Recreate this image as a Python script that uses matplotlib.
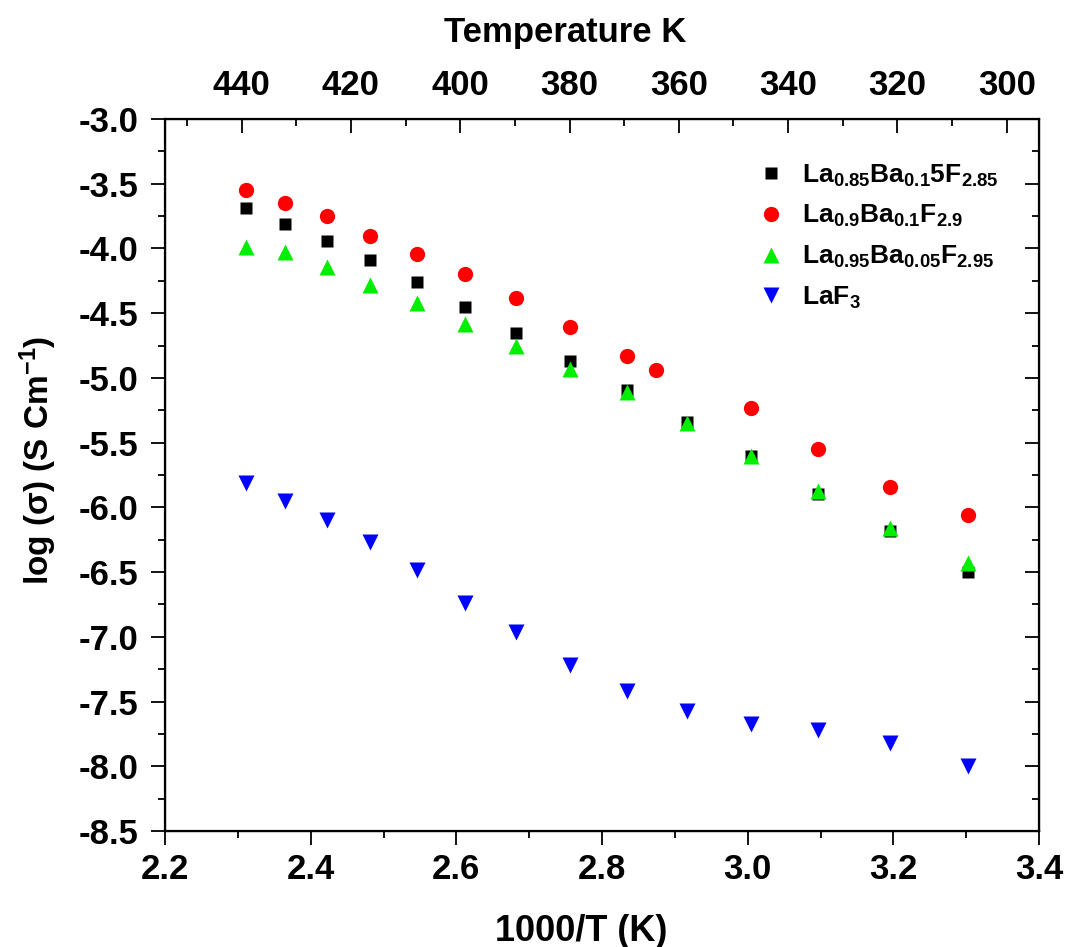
import matplotlib
matplotlib.use("Agg")
import matplotlib.pyplot as plt
from matplotlib.ticker import MultipleLocator, NullFormatter

plt.rcParams["font.family"] = ["Liberation Sans", "DejaVu Sans"]
plt.rcParams["font.weight"] = "bold"
plt.rcParams["axes.unicode_minus"] = False
plt.rcParams["mathtext.fontset"] = "custom"
plt.rcParams["mathtext.rm"] = "Liberation Sans:bold"
plt.rcParams["mathtext.default"] = "rm"

# 1000/T valores (eixo inferior)
inv_t = [2.311, 2.365, 2.422, 2.482, 2.546, 2.612, 2.682, 2.756,
         2.834, 2.916, 3.004, 3.097, 3.196, 3.302]
inv_t_red = [2.311, 2.365, 2.422, 2.482, 2.546, 2.612, 2.682, 2.756,
             2.834, 2.874, 3.004, 3.097, 3.196, 3.302]

log_s_085 = [-3.69, -3.81, -3.94, -4.09, -4.26, -4.45, -4.65, -4.87,
             -5.09, -5.34, -5.60, -5.90, -6.18, -6.50]
log_s_09 = [-3.55, -3.65, -3.75, -3.90, -4.04, -4.20, -4.38, -4.61,
            -4.83, -4.94, -5.23, -5.55, -5.84, -6.06]
log_s_095 = [-3.99, -4.03, -4.14, -4.28, -4.42, -4.58, -4.75, -4.93,
             -5.11, -5.35, -5.60, -5.87, -6.16, -6.43]
log_s_laf3 = [-5.81, -5.95, -6.10, -6.27, -6.48, -6.74, -6.96, -7.22,
              -7.42, -7.57, -7.67, -7.72, -7.82, -8.00]

labels = [r"La$_{0.85}$Ba$_{0.1}$5F$_{2.85}$",
          r"La$_{0.9}$Ba$_{0.1}$F$_{2.9}$",
          r"La$_{0.95}$Ba$_{0.05}$F$_{2.95}$",
          r"LaF$_{3}$"]

fig = plt.figure(figsize=(10.82, 9.47), dpi=100)
ax = fig.add_axes([0.1525, 0.1225, 0.8078, 0.7518])

ax.plot(inv_t, log_s_085, "s", color="black", ms=9, mec="none", label=labels[0])
ax.plot(inv_t_red, log_s_09, "o", color="#ff0000", ms=11, mec="none", label=labels[1])
ax.plot(inv_t, log_s_095, "^", color="#00ee00", ms=12, mec="none", label=labels[2])
ax.plot(inv_t, log_s_laf3, "v", color="#0000ff", ms=12, mec="none", label=labels[3])

ax.set_xlim(2.2, 3.4)
ax.set_ylim(-8.5, -3.0)
ax.xaxis.set_major_locator(MultipleLocator(0.2))
ax.xaxis.set_minor_locator(MultipleLocator(0.1))
ax.yaxis.set_major_locator(MultipleLocator(0.5))
ax.yaxis.set_minor_locator(MultipleLocator(0.25))
ax.xaxis.set_major_formatter(lambda v, p: f"{v:.1f}")
ax.yaxis.set_major_formatter(lambda v, p: f"{v:.1f}")

for s in ax.spines.values():
    s.set_linewidth(1.6)

ax.tick_params(which="both", direction="out", width=1.3, labelsize=25)
ax.tick_params(axis="x", pad=6)
ax.tick_params(axis="y", pad=9)
ax.tick_params(which="major", length=10)
ax.tick_params(which="minor", length=5)

ax.set_xlabel("1000/T (K)", fontsize=26, fontweight="bold", labelpad=20)
ax.xaxis.label.set_x(0.476)
ax.set_ylabel("log (σ) (S Cm$^{-1}$)", fontsize=24, fontweight="bold", labelpad=14)
ax.yaxis.label.set_y(0.521)

# ticks do lado direito, para dentro
ax_r = ax.twinx()
ax_r.set_ylim(ax.get_ylim())
ax_r.yaxis.set_major_locator(MultipleLocator(0.5))
ax_r.yaxis.set_minor_locator(MultipleLocator(0.25))
ax_r.yaxis.set_major_formatter(NullFormatter())
ax_r.tick_params(which="both", direction="in", width=1.3)
ax_r.tick_params(which="major", length=10)
ax_r.tick_params(which="minor", length=5)

# eixo superior em temperatura
ax2 = ax.twiny()
ax2.set_xlim(454.0, 294.1)
ax2.xaxis.set_major_locator(MultipleLocator(20))
ax2.xaxis.set_minor_locator(MultipleLocator(10))
ax2.tick_params(which="both", direction="in", width=1.3, labelsize=25, pad=12)
ax2.tick_params(which="major", length=10)
ax2.tick_params(which="minor", length=5)
ax2.set_xlabel("Temperature K", fontsize=25, fontweight="bold", labelpad=20)
ax2.xaxis.label.set_x(0.458)

ax.legend(loc="upper left", bbox_to_anchor=(0.675, 0.939), frameon=False,
          fontsize=19, handletextpad=0.6, labelspacing=0.55, borderpad=0,
          handlelength=1.2, borderaxespad=0)

fig.savefig("out.png", dpi=100)
